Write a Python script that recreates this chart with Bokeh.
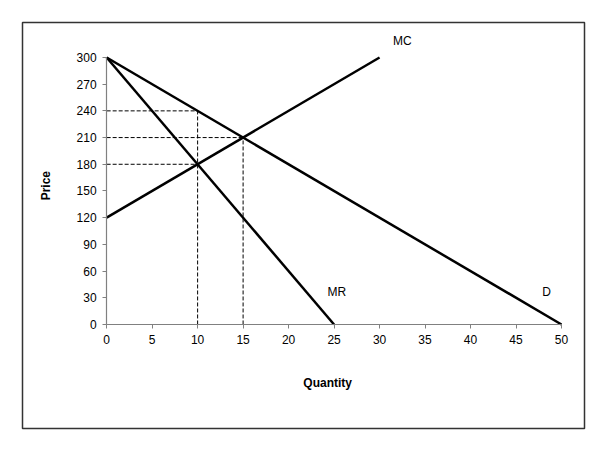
from bokeh.plotting import figure
from bokeh.models import LinearAxis, FixedTicker, Range1d, Label
from bokeh.embed import file_html
from bokeh.resources import INLINE

# Data
demand_q = [0, 50]
demand_p = [300, 0]
mr_q = [0, 25]
mr_p = [300, 0]
mc_q = [0, 30]
mc_p = [120, 300]
monopoly_q = 10
monopoly_price = 240
monopoly_mc = 180
competitive_q = 15
competitive_price = 210
x_ticks = list(range(0, 55, 5))
y_ticks = list(range(0, 330, 30))

FONT = "Liberation Sans"

p = figure(width=586, height=430, output_backend="svg", toolbar_location=None,
           x_range=Range1d(-9.25, 52.53), y_range=Range1d(-116.9, 339.3),
           x_axis_location=None, y_axis_location=None,
           min_border_left=22, min_border_top=22, min_border_right=2, min_border_bottom=2)
p.grid.visible = False
p.outline_line_color = "#333333"
p.outline_line_width = 1.5
p.background_fill_color = "white"
p.border_fill_color = "white"

def style_axis(ax):
    ax.axis_line_color = "#808080"
    ax.axis_line_width = 1.2
    ax.major_tick_line_color = "#808080"
    ax.major_tick_in = 0
    ax.major_tick_out = 4
    ax.minor_tick_line_color = None
    ax.major_label_text_font = FONT
    ax.major_label_text_font_size = "12px"
    ax.major_label_text_color = "black"

xax = LinearAxis(ticker=FixedTicker(ticks=x_ticks), fixed_location=0, bounds=(0, 50))
yax = LinearAxis(ticker=FixedTicker(ticks=y_ticks), fixed_location=0, bounds=(0, 300))
style_axis(xax)
style_axis(yax)
xax.major_label_standoff = 7
yax.major_label_standoff = 6
p.add_layout(xax, "below")
p.add_layout(yax, "left")

# dashed guide lines
dash = dict(line_color="black", line_width=1, line_dash="4 2")
p.line([0, monopoly_q], [monopoly_price, monopoly_price], **dash)
p.line([0, monopoly_q], [monopoly_mc, monopoly_mc], **dash)
p.line([monopoly_q, monopoly_q], [0, monopoly_price], **dash)
p.line([0, competitive_q], [competitive_price, competitive_price], **dash)
p.line([competitive_q, competitive_q], [0, competitive_price], **dash)

# curves
p.line(demand_q, demand_p, line_color="black", line_width=2.5)
p.line(mr_q, mr_p, line_color="black", line_width=2.5)
p.line(mc_q, mc_p, line_color="black", line_width=2.5)

def lab(x, y, t, bold=False, angle=0):
    p.add_layout(Label(x=x, y=y, text=t, text_font=FONT, text_font_size="12px",
                       text_font_style="bold" if bold else "normal",
                       text_color="black",
                       text_align="center", text_baseline="middle", angle=angle))

lab(32.5, 318, "MC")
lab(25.3, 36, "MR")
lab(48.35, 36, "D")
lab(24.3, -66, "Quantity", bold=True)
lab(-6.7, 156, "Price", bold=True, angle=1.5708)

open("out.html", "w").write(file_html(p, INLINE))
